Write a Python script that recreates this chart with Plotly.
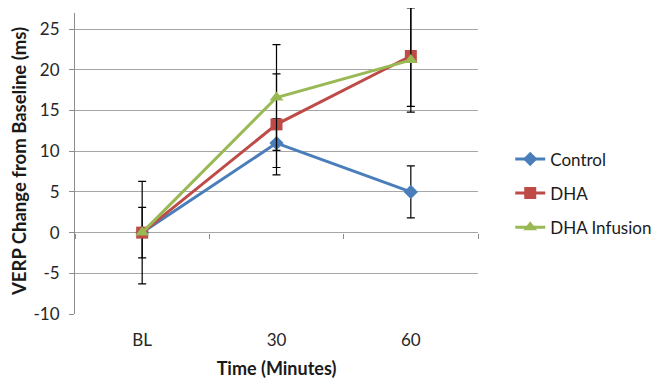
import plotly.graph_objects as go

categories = ["BL", "30", "60"]
series_names = ["Control", "DHA", "DHA Infusion"]
control = [0, 11.0, 5.0]
control_err = [3.1, 3.0, 3.2]
dha = [0, 13.3, 21.7]
dha_err = [6.3, 6.2, 6.2]
dha_inf = [0, 16.6, 21.2]
dha_inf_err = [0.0, 6.5, 6.4]
y_ticks = [-10, -5, 0, 5, 10, 15, 20, 25]
y_ticktext = [str(v) for v in y_ticks]

colors = ["#4A7EBB", "#BE4B48", "#98B954"]
symbols = ["diamond", "square", "triangle-up"]
sizes = [11, 12, 12]
values = [control, dha, dha_inf]
errs = [control_err, dha_err, dha_inf_err]

FONT = "Lato, Open Sans, sans-serif"
Y_MIN, Y_AXIS_MAX, Y_VIEW_MAX = -10, 27, 27.6
SPAN = Y_VIEW_MAX - Y_MIN

fig = go.Figure()
for i, name in enumerate(series_names):
    fig.add_trace(go.Scatter(
        x=list(range(len(categories))), y=values[i], name=name,
        mode="lines+markers", legendgroup=name,
        line=dict(color=colors[i], width=3),
        marker=dict(symbol=symbols[i], size=sizes[i], color=colors[i]),
        error_y=dict(type="data", array=errs[i], color="black", thickness=1.2, width=4),
        cliponaxis=False,
    ))

# helper invisible traces for the axis-line axis and the zero-crossing tick axis
fig.add_trace(go.Scatter(x=[0], y=[0], yaxis="y2", mode="lines",
                         line=dict(color="rgba(0,0,0,0)"), showlegend=False, hoverinfo="skip"))
fig.add_trace(go.Scatter(x=[-0.5, 2.5], y=[0, 0], xaxis="x2", mode="lines",
                         line=dict(color="rgba(0,0,0,0)"), showlegend=False, hoverinfo="skip"))

fig.update_layout(
    width=656, height=377,
    margin=dict(l=66.5, r=185.5, t=0, b=71),
    paper_bgcolor="white", plot_bgcolor="rgba(0,0,0,0)",
    font=dict(family=FONT, size=17, color="#262626"),
    showlegend=True,
    legend=dict(x=1.08, y=0.394, xanchor="left", yanchor="middle",
                font=dict(size=17, color="#1a1a1a"), tracegroupgap=9,
                bgcolor="rgba(0,0,0,0)"),
    xaxis=dict(
        range=[-0.5, 2.5], tickmode="array", tickvals=list(range(len(categories))),
        ticktext=categories, showgrid=False, zeroline=False, showline=False,
        ticks="", ticklabelstandoff=14, automargin=False,
        title=dict(text="<b>Time (Minutes)</b>", font=dict(size=18, color="#1a1a1a"), standoff=13),
    ),
    xaxis2=dict(
        range=[-0.5, 2.5], overlaying="x", anchor="free", position=(0 - Y_MIN) / SPAN,
        tickmode="array", tickvals=[-0.5, 0.5, 1.5, 2.5], showticklabels=False,
        ticks="outside", ticklen=5, tickcolor="#8c8c8c", showline=False,
        showgrid=False, zeroline=False, automargin=False,
    ),
    yaxis=dict(
        range=[Y_MIN, Y_VIEW_MAX], tickmode="array", tickvals=y_ticks, ticktext=y_ticktext,
        showgrid=True, gridcolor="#A6A6A6", gridwidth=1, zeroline=False,
        showline=False, ticks="outside", ticklen=5, tickcolor="#8c8c8c",
        ticklabelstandoff=6, automargin=False,
        title=dict(text="<b>VERP Change from Baseline (ms)</b>", font=dict(size=18.5, color="#1a1a1a"), standoff=5),
    ),
    yaxis2=dict(
        domain=[0, (Y_AXIS_MAX - Y_MIN) / SPAN], anchor="x", range=[Y_MIN, Y_AXIS_MAX],
        showgrid=False, zeroline=False, showticklabels=False, ticks="",
        showline=True, linecolor="#8c8c8c", linewidth=1, automargin=False,
    ),
)

fig.write_html("out.html")
